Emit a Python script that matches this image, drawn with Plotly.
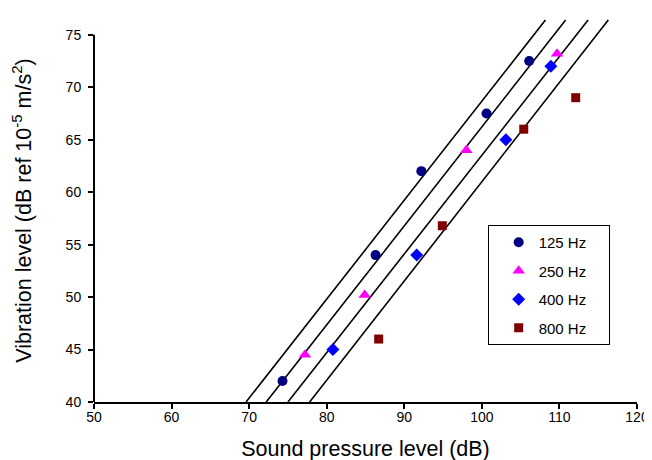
import plotly.graph_objects as go

# ---- data ----
x125 = [74.3, 86.3, 92.2, 100.6, 106.1]
y125 = [42.0, 54.0, 62.0, 67.5, 72.5]
x250 = [77.2, 84.9, 98.0, 109.7]
y250 = [44.5, 50.2, 64.0, 73.2]
x400 = [80.8, 91.6, 103.1, 108.9]
y400 = [45.0, 54.0, 65.0, 72.0]
x800 = [86.7, 94.9, 105.4, 112.1]
y800 = [46.0, 56.8, 66.0, 69.0]

line_start_x = [69.6, 72.2, 75.0, 77.8]   # x at y = 40
line_end_x = [108.2, 110.8, 113.7, 116.3]  # x at y = 76.4
line_y = [40, 76.4]

x_ticks = [50, 60, 70, 80, 90, 100, 110, 120]
y_ticks = [40, 45, 50, 55, 60, 65, 70, 75]
y_axis_max = 75
y_range = [40, 76.5]

FONT = "Arial, Liberation Sans, sans-serif"

fig = go.Figure()

for xs, xe in zip(line_start_x, line_end_x):
    fig.add_trace(go.Scatter(x=[xs, xe], y=line_y, mode="lines",
                             line=dict(color="black", width=1.6),
                             showlegend=False, hoverinfo="skip"))

series = [
    ("125 Hz", x125, y125, "circle", "#000080", 10),
    ("250 Hz", x250, y250, "triangle-up", "#FF00FF", 11),
    ("400 Hz", x400, y400, "diamond", "#0000FF", 10),
    ("800 Hz", x800, y800, "square", "#800000", 9),
]
pad = "\u00a0" * 4
for name, xs, ys, sym, col, size in series:
    fig.add_trace(go.Scatter(x=xs, y=ys, mode="markers", name=name + pad,
                             legendgroup=name,
                             marker=dict(symbol=sym, color=col, size=size,
                                         line=dict(width=0)),
                             cliponaxis=False))

fig.update_layout(
    width=652, height=460,
    margin=dict(l=86, r=13, t=11, b=62),
    paper_bgcolor="white", plot_bgcolor="white",
    font=dict(family=FONT, color="black", size=13),
    showlegend=True,
    legend=dict(x=0.725, y=0.462, xanchor="left", yanchor="top",
                bordercolor="black", borderwidth=1, bgcolor="white",
                font=dict(family=FONT, size=15, color="black"),
                traceorder="grouped", tracegroupgap=6,
                itemwidth=30, indentation=10),
    xaxis=dict(range=[50, 120], tickvals=x_ticks, showgrid=False,
               zeroline=False, showline=True, linecolor="black", linewidth=2,
               ticks="outside", ticklen=5, tickwidth=2, tickcolor="black",
               tickfont=dict(size=14), ticklabelstandoff=-4,
               title=dict(text="Sound pressure level (dB)",
                          font=dict(size=21.5), standoff=17)),
    yaxis=dict(range=y_range, tickvals=y_ticks, showgrid=False,
               zeroline=False, showline=False,
               ticks="outside", ticklen=5, tickwidth=2, tickcolor="black",
               tickfont=dict(size=14), ticklabelstandoff=4,
               title=dict(text="Vibration level (dB ref 10<sup>-5</sup> m/s<sup>2</sup>)",
                          font=dict(size=21.5), standoff=30)),
    shapes=[dict(type="line", xref="x domain", yref="y domain",
                 x0=0, x1=0, y0=0,
                 y1=(y_axis_max - y_range[0]) / (y_range[1] - y_range[0]),
                 line=dict(color="black", width=2))],
)

fig.write_html("out.html")
